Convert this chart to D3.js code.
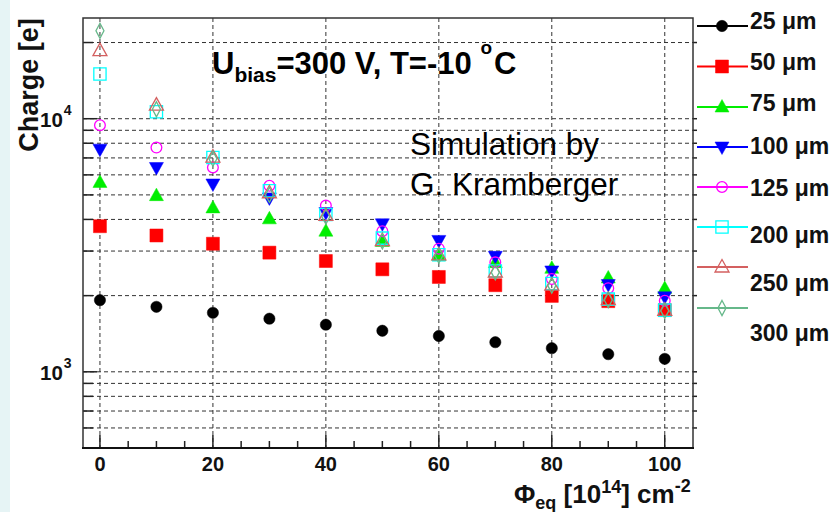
<!DOCTYPE html>
<html><head><meta charset="utf-8">
<script src="https://cdn.jsdelivr.net/npm/d3@7"></script>
<style>html,body{margin:0;padding:0;background:#fff;}svg{display:block;}</style>
</head><body>
<svg id="c" width="834" height="512"></svg>
<script>
// ---- data ----
const fluence = [0, 10, 20, 30, 40, 50, 60, 70, 80, 90, 100];
const seriesNames = ["25 μm", "50 μm", "75 μm", "100 μm", "125 μm", "200 μm", "250 μm", "300 μm"];
const q25  = [1919, 1806, 1711, 1621, 1535, 1453, 1385, 1309, 1240, 1174, 1125];
const q50  = [3761, 3457, 3207, 2957, 2740, 2541, 2370, 2199, 1995, 1902, 1753];
const q75  = [5601, 4966, 4443, 4022, 3594, 3274, 2876, 2700, 2565, 2349, 2134];
const q100 = [7581, 6416, 5521, 4864, 4256, 3843, 3305, 2859, 2503, 2212, 1978];
const q125 = [9420, 7690, 6416, 5436, 4536, 3594, 3065, 2707, 2328, 2140, 1908];
const q200 = [15030, 10650, 7024, 5196, 4181, 3375, 2902, 2503, 2233, 1937, 1753];
const q250 = [18580, 11320, 7050, 5100, 4150, 3300, 2900, 2480, 2200, 1930, 1750];
const q300 = [22260, 10900, 6950, 5000, 4100, 3280, 2880, 2470, 2190, 1920, 1740];
const xTickLabels = [0, 20, 40, 60, 80, 100];
const yGridValues = [600, 700, 800, 900, 1000, 2000, 3000, 4000, 5000, 6000, 7000, 8000, 9000, 10000, 20000];
const yTickLabelExp = [3, 4];

const seriesValues = [q25, q50, q75, q100, q125, q200, q250, q300];

// ---- styles ----
const colors = ["#000000", "#ff0000", "#00ee00", "#0000ff", "#ff00ff", "#00ffff", "#d46060", "#66b88a"];
const shapes = ["circleF", "squareF", "triUpF", "triDownF", "circleO", "squareO", "triUpO", "diamondO"];

const svg = d3.select("#c");
svg.append("rect").attr("x", 0).attr("y", 0).attr("width", 834).attr("height", 512).attr("fill", "#fff");
svg.append("rect").attr("x", 0).attr("y", 0).attr("width", 10).attr("height", 512).attr("fill", "#e6f4f5");

const L = 83, R = 693, T = 18, B = 448;
const x = d3.scaleLinear().domain([-3, 105]).range([L, R]);
const y = d3.scaleLog().domain([500, 25000]).range([B, T]);

// grid
const grid = svg.append("g").attr("stroke", "#333").attr("stroke-width", 1).attr("stroke-dasharray", "4,3");
grid.selectAll("line.v").data(xTickLabels).join("line")
  .attr("x1", d => x(d)).attr("x2", d => x(d)).attr("y1", T).attr("y2", B);
grid.selectAll("line.h").data(yGridValues).join("line")
  .attr("x1", L).attr("x2", R).attr("y1", d => y(d)).attr("y2", d => y(d));

// ticks
const ticks = svg.append("g").attr("stroke", "#222").attr("stroke-width", 1.5);
const xMinor = d3.range(0, 105, 5);
ticks.selectAll("line.xt").data(xMinor).join("line")
  .attr("x1", d => x(d)).attr("x2", d => x(d))
  .attr("y1", B).attr("y2", d => B - (d % 20 === 0 ? 13 : 7));
ticks.selectAll("line.yt").data(yGridValues).join("line")
  .attr("y1", d => y(d)).attr("y2", d => y(d))
  .attr("x1", L).attr("x2", d => L + ([1000, 10000].includes(d) ? 14 : 10));
ticks.selectAll("line.yr").data(yGridValues).join("line")
  .attr("y1", d => y(d)).attr("y2", d => y(d))
  .attr("x1", R).attr("x2", R + 4);

// frame
svg.append("rect").attr("x", L).attr("y", T).attr("width", R - L).attr("height", B - T)
  .attr("fill", "none").attr("stroke", "#333").attr("stroke-width", 1.5);
svg.append("line").attr("x1", L - 1).attr("x2", R + 1).attr("y1", B).attr("y2", B)
  .attr("stroke", "#111").attr("stroke-width", 2.2);

const font = "'Liberation Sans', Arial, Helvetica, sans-serif";

// x tick labels
svg.append("g").selectAll("text").data(xTickLabels).join("text")
  .attr("x", d => x(d)).attr("y", 471).attr("text-anchor", "middle")
  .attr("font-family", font).attr("font-weight", "bold").attr("font-size", 20).attr("fill", "#111")
  .text(d => d);

// y tick labels
const yl = svg.append("g").selectAll("text").data(yTickLabelExp).join("text")
  .attr("x", 40).attr("y", d => y(Math.pow(10, d)) + 8)
  .attr("font-family", font).attr("font-weight", "bold").attr("font-size", 20.5).attr("fill", "#111");
yl.append("tspan").text("10");
yl.append("tspan").attr("dy", -12).attr("dx", 1).attr("font-size", 14).text(d => d);

// axis titles
svg.append("text").attr("transform", "translate(38,85) rotate(-90)").attr("text-anchor", "middle")
  .attr("font-family", font).attr("font-weight", "bold").attr("font-size", 27).attr("fill", "#111")
  .text("Charge [e]");

const xt = svg.append("text").attr("x", 514).attr("y", 503)
  .attr("font-family", font).attr("font-weight", "bold").attr("font-size", 26).attr("fill", "#111");
xt.append("tspan").text("Φ");
xt.append("tspan").attr("font-size", 18).attr("dy", 6).text("eq");
xt.append("tspan").attr("dy", -6).text(" [10");
xt.append("tspan").attr("font-size", 18).attr("dy", -10).text("14");
xt.append("tspan").attr("dy", 10).text("] cm");
xt.append("tspan").attr("font-size", 18).attr("dy", -11).text("-2");

// title
const tt = svg.append("text").attr("x", 212).attr("y", 74)
  .attr("font-family", font).attr("font-weight", "bold").attr("font-size", 31).attr("fill", "#000");
tt.append("tspan").text("U");
tt.append("tspan").attr("font-size", 21).attr("dy", 8).text("bias");
tt.append("tspan").attr("dy", -8).text("=300 V, T=-10 ");
tt.append("tspan").attr("font-size", 19).attr("dy", -20).text("o");
tt.append("tspan").attr("dy", 20).attr("dx", 2).text("C");

// annotation
svg.append("text").attr("x", 410).attr("y", 155).attr("font-family", font).attr("font-size", 31.5).attr("fill", "#000").text("Simulation by");
svg.append("text").attr("x", 410).attr("y", 195).attr("font-family", font).attr("font-size", 31.5).attr("fill", "#000").text("G. Kramberger");

// marker factory
function marker(sel, shape, color) {
  const filled = shape.endsWith("F");
  let p;
  if (shape.startsWith("circle")) p = d3.symbol(d3.symbolCircle, filled ? 100 : 90)();
  else if (shape.startsWith("square")) p = d3.symbol(d3.symbolSquare, filled ? 169 : 150)();
  else if (shape.startsWith("triUp")) p = "M0,-7.5L7,5L-7,5Z";
  else if (shape.startsWith("triDown")) p = "M0,7.5L7,-5L-7,-5Z";
  else p = "M0,-7.5L4,0L0,7.5L-4,0Z";
  sel.append("path").attr("d", p)
    .attr("fill", filled ? color : "none")
    .attr("stroke", color).attr("stroke-width", filled ? 0.5 : 1.3);
}

// series
seriesValues.forEach((vals, i) => {
  const g = svg.append("g");
  fluence.forEach((f, j) => {
    const m = g.append("g").attr("transform", `translate(${x(f)},${y(vals[j])})`);
    marker(m, shapes[i], colors[i]);
  });
});

// legend
const legLineY = [26, 66.5, 107, 147, 187, 227, 267, 308];
const legTextY = [21, 62, 103, 146, 188, 235, 283, 333];
seriesNames.forEach((name, i) => {
  svg.append("line").attr("x1", 697).attr("x2", 748).attr("y1", legLineY[i]).attr("y2", legLineY[i])
    .attr("stroke", colors[i]).attr("stroke-width", 2);
  const m = svg.append("g").attr("transform", `translate(722,${legLineY[i]})`);
  marker(m, shapes[i], colors[i]);
  svg.append("text").attr("x", 750).attr("y", legTextY[i] + 8)
    .attr("font-family", font).attr("font-weight", "bold").attr("font-size", 23).attr("fill", "#111")
    .text(name);
});
</script>
</body></html>
